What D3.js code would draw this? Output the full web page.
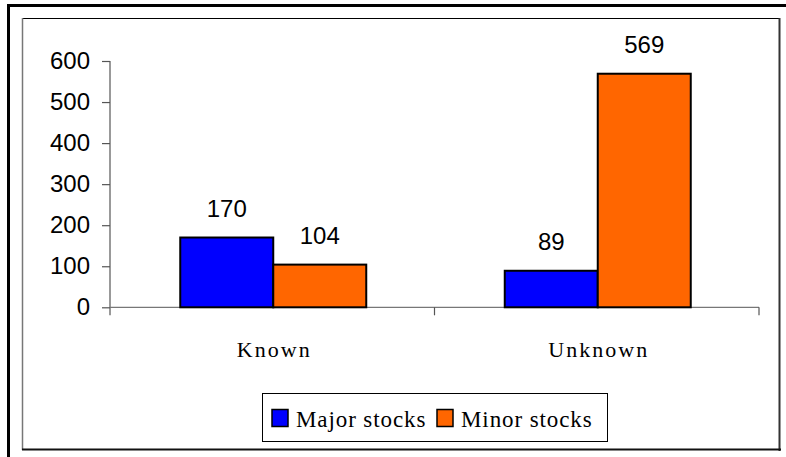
<!DOCTYPE html>
<html>
<head>
<meta charset="utf-8">
<script src="https://cdn.jsdelivr.net/npm/d3@7"></script>
<style>
  html, body { margin: 0; padding: 0; background: #fff; }
  svg { display: block; }
</style>
</head>
<body>
<svg id="chart" width="786" height="457"></svg>
<script>
const categories = ["Known", "Unknown"];
const seriesNames = ["Major stocks", "Minor stocks"];
const majorValues = [170, 89];
const minorValues = [104, 569];
const yTicks = [0, 100, 200, 300, 400, 500, 600];
const colors = ["#0000FF", "#FF6600"];

const SERIF = '"Liberation Serif"';
const SANS = '"Liberation Sans"';

const svg = d3.select("#chart");

// outer heavy frame (top + left)
svg.append("rect").attr("x", 7).attr("y", 4).attr("width", 779).attr("height", 3).attr("fill", "#000");
svg.append("rect").attr("x", 7).attr("y", 4).attr("width", 3).attr("height", 453).attr("fill", "#000");

// inner chart area border
svg.append("line").attr("x1", 22).attr("x2", 780).attr("y1", 18.5).attr("y2", 18.5).attr("stroke", "#000").attr("stroke-width", 1);
svg.append("line").attr("x1", 22.5).attr("x2", 22.5).attr("y1", 18).attr("y2", 450).attr("stroke", "#777").attr("stroke-width", 1.5);
svg.append("line").attr("x1", 779.5).attr("x2", 779.5).attr("y1", 18).attr("y2", 451).attr("stroke", "#333").attr("stroke-width", 2);
svg.append("line").attr("x1", 22).attr("x2", 781).attr("y1", 449.5).attr("y2", 449.5).attr("stroke", "#111").attr("stroke-width", 2);

const plot = { left: 110, right: 759, top: 61, bottom: 307.3 };

const x0 = d3.scaleBand().domain(categories).range([plot.left, plot.right]).paddingInner(0).paddingOuter(0);
const x1 = d3.scaleBand().domain(seriesNames).range([0, 186]);
const y = d3.scaleLinear().domain([0, 600]).range([plot.bottom, plot.top]);

const data = categories.map((c, i) => ({ cat: c, vals: [majorValues[i], minorValues[i]] }));

// Y axis
const yAxis = d3.axisLeft(y).tickValues(yTicks).tickSize(8).tickPadding(12).tickSizeOuter(0);
const gy = svg.append("g").attr("transform", `translate(${plot.left},0)`).call(yAxis);
gy.select(".domain").attr("stroke", "#555").attr("stroke-width", 1.2);
gy.selectAll(".tick line").attr("stroke", "#555").attr("stroke-width", 1.2);
gy.selectAll(".tick text")
  .style("font-family", SANS)
  .style("font-size", "24px").attr("fill", "#000");
gy.select(".domain").attr("d", `M0,${plot.top}V${plot.bottom + 8}`);

// X axis (ticks at category boundaries)
const gx = svg.append("g").attr("transform", `translate(0,${plot.bottom})`);
gx.append("line").attr("x1", plot.left).attr("x2", plot.right).attr("y1", 0).attr("y2", 0)
  .attr("stroke", "#777").attr("stroke-width", 1.2);
const boundaries = categories.map(c => x0(c) + x0.bandwidth());
gx.selectAll("line.tk").data(boundaries).join("line").attr("class", "tk")
  .attr("x1", d => d).attr("x2", d => d).attr("y1", 0).attr("y2", 8)
  .attr("stroke", "#555").attr("stroke-width", 1.2);
gx.selectAll("text.cat").data(categories).join("text").attr("class", "cat")
  .attr("x", d => x0(d) + x0.bandwidth() / 2 + 2)
  .attr("y", 50)
  .attr("text-anchor", "middle")
  .style("font-family", SERIF)
  .style("font-size", "22px")
  .style("letter-spacing", "2px")
  .attr("fill", "#000")
  .text(d => d);

// Bars
const groups = svg.append("g").selectAll("g").data(data).join("g")
  .attr("transform", d => `translate(${x0(d.cat) + (x0.bandwidth() - 186) / 2 + 1},0)`);
groups.selectAll("rect").data(d => d.vals.map((v, j) => ({ v, s: seriesNames[j], j })))
  .join("rect")
  .attr("x", d => x1(d.s))
  .attr("y", d => y(d.v))
  .attr("width", x1.bandwidth())
  .attr("height", d => y(0) - y(d.v))
  .attr("fill", d => colors[d.j])
  .attr("stroke", "#000").attr("stroke-width", 2);
groups.selectAll("text").data(d => d.vals.map((v, j) => ({ v, s: seriesNames[j], j })))
  .join("text")
  .attr("x", d => x1(d.s) + x1.bandwidth() / 2)
  .attr("y", d => y(d.v) - 21)
  .attr("text-anchor", "middle")
  .style("font-family", SANS)
  .style("font-size", "24px")
  .attr("fill", "#000")
  .text(d => d.v);

// Legend
const legend = svg.append("g");
legend.append("rect").attr("x", 262.5).attr("y", 393.5).attr("width", 345).attr("height", 48)
  .attr("fill", "#fff").attr("stroke", "#000").attr("stroke-width", 1);
const legendX = [272, 437];
seriesNames.forEach((s, i) => {
  legend.append("rect").attr("x", legendX[i]).attr("y", 409.5).attr("width", 16).attr("height", 17)
    .attr("fill", colors[i]).attr("stroke", "#000").attr("stroke-width", 1.5);
  legend.append("text").attr("x", legendX[i] + 24).attr("y", 427)
    .style("font-family", SERIF)
    .style("font-size", "23px")
    .style("letter-spacing", "0.9px")
    .attr("fill", "#000")
    .text(s);
});
</script>
</body>
</html>
